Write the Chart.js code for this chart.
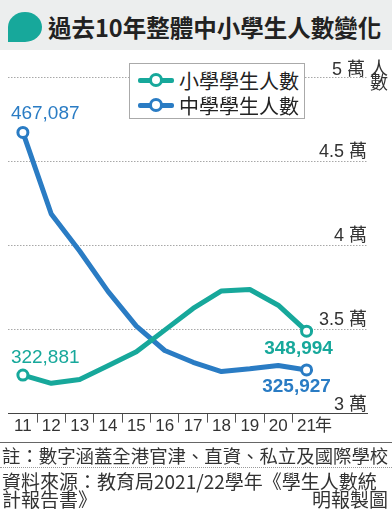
<!DOCTYPE html>
<html>
<head>
<meta charset="utf-8">
<script src="https://cdn.jsdelivr.net/npm/chart.js@4/dist/chart.umd.min.js"></script>
<style>
body { margin: 0; width: 392px; height: 521px; position: relative; overflow: hidden; background: #fff;
  font-family: 'Liberation Sans', 'Noto Sans CJK TC', sans-serif; color: #222; }
#head { position: absolute; left: 0; top: 0; width: 392px; height: 50px; background: #eceeee; }
#bubble { position: absolute; left: 8px; top: 12px; width: 34px; height: 30px; background: #17a89b;
  border-radius: 50% 50% 50% 0; }
#title { position: absolute; left: 48px; top: 0; line-height: 54px; font-size: 23.5px; font-weight: bold;
  font-family: 'Noto Sans CJK TC', sans-serif; color: #222; white-space: nowrap; }
#chart { position: absolute; left: 0; top: 0; }
#legend { position: absolute; left: 129px; top: 63px; width: 174px; height: 54px; background: #fff;
  border: 1px solid #aaa; }
.item { position: absolute; left: 8px; height: 24px; display: flex; align-items: center;
  font-family: 'Noto Sans CJK TC', sans-serif; font-size: 20px; color: #222; white-space: nowrap; }
.sym { position: relative; width: 36px; height: 14px; margin-right: 5px; }
.sym .ln { position: absolute; left: 0; top: 5px; width: 36px; height: 5px; border-radius: 2px; }
.sym .dot { position: absolute; left: 11px; top: 0; width: 8px; height: 8px; border-radius: 50%;
  background: #fff; border-width: 3px; border-style: solid; }
.note { position: absolute; left: 2px; white-space: nowrap; font-family: 'Noto Sans CJK TC', sans-serif; color: #333; }
#rule1 { position: absolute; left: 0; top: 442px; width: 392px; border-top: 1px solid #666; }
#rule2 { position: absolute; left: 0; top: 467px; width: 392px; border-top: 1px dotted #999; }
</style>
</head>
<body>
<div id="head"><div id="bubble"></div><div id="title">過去10年整體中小學生人數變化</div></div>
<canvas id="chart" width="392" height="521"></canvas>
<div id="legend"></div>
<div id="rule1"></div>
<div class="note" style="top:443px;font-size:18.4px;line-height:24px;">註：數字涵蓋全港官津、直資、私立及國際學校</div>
<div id="rule2"></div>
<div class="note" style="top:471px;font-size:19px;line-height:20px;">資料來源：教育局2021/22學年《學生人數統</div>
<div class="note" style="top:489px;font-size:19px;line-height:20px;">計報告書》</div>
<div class="note" style="top:489px;left:auto;right:4px;font-size:19px;line-height:20px;">明報製圖</div>
<script>
const years = [11, 12, 13, 14, 15, 16, 17, 18, 19, 20, 21];
const xTickLabels = ['11', '12', '13', '14', '15', '16', '17', '18', '19', '20', '21', '年'];
const seriesNames = ['小學學生人數', '中學學生人數'];
const primary = [322881, 318000, 320300, 328400, 336700, 349600, 362500, 372900, 373700, 364400, 348994];
const secondary = [467087, 418600, 396600, 372600, 352000, 337500, 330500, 325000, 326600, 328600, 325927];
const yTicks = [300000, 350000, 400000, 450000, 500000];
const yTickLabels = ['3 萬', '3.5 萬', '4 萬', '4.5 萬', ''];
const yTopLabel = ['5 萬 人', '數'];

const teal = '#17a89b';
const blue = '#2a7cc4';
const colors = [teal, blue];

function toPoints(arr) {
  return arr.map((v, i) => ({ x: years[i], y: v }));
}
function endRadius(arr, r) {
  return arr.map((v, i) => (i === 0 || i === arr.length - 1) ? r : 0);
}

// html legend
const legend = document.getElementById('legend');
seriesNames.forEach((name, i) => {
  const row = document.createElement('div');
  row.className = 'item';
  row.style.top = (4 + i * 25) + 'px';
  row.innerHTML = '<span class="sym"><span class="ln" style="background:' + colors[i] + '"></span>' +
    '<span class="dot" style="border-color:' + colors[i] + '"></span></span>' + name;
  legend.appendChild(row);
});

// first / last value labels
const endLabels = {
  id: 'endLabels',
  afterDatasetsDraw(chart, args, opts) {
    const ctx = chart.ctx;
    opts.items.forEach(it => {
      const pt = chart.getDatasetMeta(it.dataset).data[it.index];
      const v = chart.data.datasets[it.dataset].data[it.index].y;
      ctx.save();
      ctx.font = it.font;
      ctx.fillStyle = colors[it.dataset];
      ctx.textAlign = it.align;
      ctx.textBaseline = 'middle';
      ctx.fillText(v.toLocaleString('en-US'), pt.x + it.dx, pt.y + it.dy);
      ctx.restore();
    });
  }
};

const numFont = "'Liberation Sans', 'Noto Sans CJK TC', sans-serif";

new Chart(document.getElementById('chart'), {
  type: 'line',
  data: {
    datasets: [{
      label: seriesNames[0],
      data: toPoints(primary),
      borderColor: teal,
      backgroundColor: '#fff',
      borderWidth: 5,
      pointRadius: endRadius(primary, 5),
      pointBorderWidth: 3,
      pointBorderColor: teal,
      pointBackgroundColor: '#fff',
      borderJoinStyle: 'round',
      tension: 0
    }, {
      label: seriesNames[1],
      data: toPoints(secondary),
      borderColor: blue,
      backgroundColor: '#fff',
      borderWidth: 5,
      pointRadius: endRadius(secondary, 5),
      pointBorderWidth: 3,
      pointBorderColor: blue,
      pointBackgroundColor: '#fff',
      borderJoinStyle: 'round',
      tension: 0
    }]
  },
  options: {
    responsive: false,
    animation: false,
    devicePixelRatio: 1,
    layout: { padding: { top: 77, left: 5, right: 4, bottom: 79.4 } },
    plugins: {
      legend: { display: false },
      tooltip: { enabled: false },
      endLabels: {
        items: [
          { dataset: 1, index: 0, dx: -12, dy: -19, align: 'left', font: '19px ' + numFont },
          { dataset: 0, index: 0, dx: -12, dy: -17, align: 'left', font: '19px ' + numFont },
          { dataset: 0, index: 10, dx: -8, dy: 18, align: 'center', font: 'bold 19px ' + numFont },
          { dataset: 1, index: 10, dx: -10, dy: 17, align: 'center', font: 'bold 19px ' + numFont }
        ]
      }
    },
    scales: {
      x: {
        type: 'linear',
        min: 10.475,
        max: 23.13,
        afterBuildTicks: s => { s.ticks = years.concat([21.6]).map(v => ({ value: v })); },
        afterFit: s => { s.height = 28; },
        grid: {
          offset: true,
          drawOnChartArea: false,
          drawTicks: true,
          tickLength: 9,
          lineWidth: 1,
          color: c => (c.index >= 1 && c.index <= 10) ? '#555' : 'rgba(0,0,0,0)'
        },
        border: { display: true, color: '#444', width: 1 },
        ticks: {
          autoSkip: false,
          maxRotation: 0,
          padding: -6,
          color: '#333',
          font: { family: numFont, size: 17 },
          callback: (v, i) => xTickLabels[i]
        }
      },
      y: {
        position: 'right',
        weight: 0,
        min: 300000,
        max: 500000,
        afterBuildTicks: s => { s.ticks = yTicks.map(v => ({ value: v })); },
        afterFit: s => { s.width = 0; },
        grid: {
          drawTicks: false,
          lineWidth: 1,
          color: c => (c.tick && c.tick.value === 300000) ? 'rgba(0,0,0,0)' : '#a8a8a8'
        },
        border: { display: false, dash: [1.5, 1.5] },
        ticks: {
          mirror: true,
          padding: 0,
          labelOffset: -9,
          color: '#333',
          font: { family: numFont, size: 18 },
          callback: (v, i) => yTickLabels[i]
        }
      },
      y2: {
        position: 'right',
        weight: 1,
        min: 300000,
        max: 500000,
        afterBuildTicks: s => { s.ticks = [{ value: 500000 }]; },
        afterFit: s => { s.width = 21; },
        grid: { display: false, drawTicks: false },
        border: { display: false },
        ticks: {
          mirror: true,
          padding: 21,
          labelOffset: 0,
          color: '#333',
          font: { family: numFont, size: 18, lineHeight: 0.8 },
          callback: () => yTopLabel
        }
      }
    }
  },
  plugins: [endLabels]
});
</script>
</body>
</html>
